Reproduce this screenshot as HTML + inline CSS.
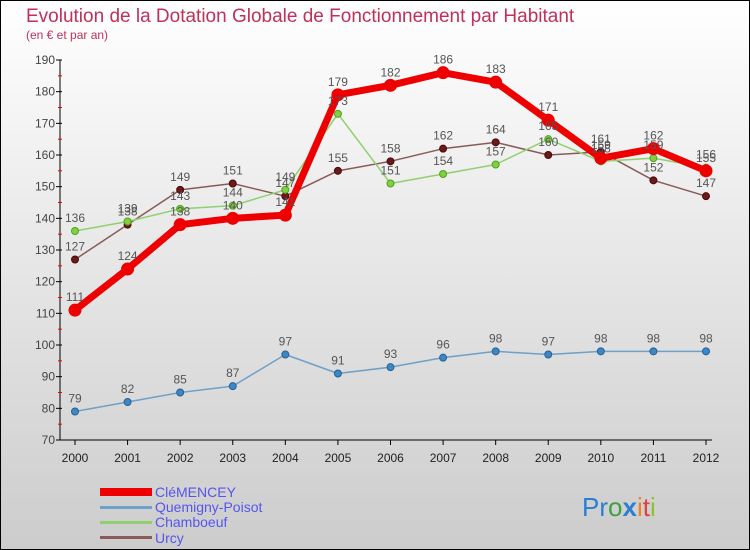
<!DOCTYPE html>
<html><head><meta charset="utf-8"><style>
body{margin:0}
svg{display:block;font-family:"Liberation Sans",sans-serif}
</style></head><body>
<svg id="c" width="750" height="550">
<defs><linearGradient id="bg" x1="0" y1="0" x2="0" y2="1"><stop offset="0" stop-color="#ffffff"/><stop offset="1" stop-color="#cccccc"/></linearGradient></defs>
<rect x="0.5" y="0.5" width="749" height="549" fill="url(#bg)" stroke="#000"/>
<text x="26" y="22" font-size="19" fill="#c0305a">Evolution de la Dotation Globale de Fonctionnement par Habitant</text>
<text x="26" y="39" font-size="12" fill="#c0305a">(en € et par an)</text>
<g id="axes"></g><g id="series"></g><g id="labels"></g>
<g>
<rect x="100" y="488" width="52" height="8" fill="#ee0000"/>
<text x="155" y="497" font-size="14" fill="#5555ee">CléMENCEY</text>
<rect x="100" y="506" width="52" height="3" fill="#6fa0c8"/>
<text x="155" y="512" font-size="14" fill="#5555ee">Quemigny-Poisot</text>
<rect x="100" y="521" width="52" height="3" fill="#90d070"/>
<text x="155" y="527" font-size="14" fill="#5555ee">Chamboeuf</text>
<rect x="100" y="536" width="52" height="3" fill="#8a5a5a"/>
<text x="155" y="543" font-size="14" fill="#5555ee">Urcy</text>
</g>
<g font-size="26">
<text x="582" y="516"><tspan fill="#2a7fd0">Pr</tspan><tspan fill="#40a040">o</tspan><tspan fill="#2a7fd0" font-weight="bold">x</tspan><tspan fill="#f08020">i</tspan><tspan fill="#e04040">t</tspan><tspan fill="#90c030">i</tspan></text>
</g>
</svg>
<script>
const years=[2000,2001,2002,2003,2004,2005,2006,2007,2008,2009,2010,2011,2012];
const yTicks=[70,80,90,100,110,120,130,140,150,160,170,180,190];
const clemencey=[111,124,138,140,141,179,182,186,183,171,159,162,155];
const quemigny=[79,82,85,87,97,91,93,96,98,97,98,98,98];
const chamboeuf=[136,139,143,144,149,173,151,154,157,165,158,159,156];
const urcy=[127,138,149,151,147,155,158,162,164,160,161,152,147];
const NS='http://www.w3.org/2000/svg';
const x=i=>75+i*(706-75)/12;
const y=v=>440-(v-70)*(380/120);
function mk(t,a,p){const e=document.createElementNS(NS,t);for(const k in a)e.setAttribute(k,a[k]);p.appendChild(e);return e;}
const ax=document.getElementById('axes');
let l=mk('line',{x1:60,y1:60,x2:60,y2:440,stroke:'#000'},ax);

l=mk('line',{x1:60,y1:440,x2:712,y2:440,stroke:'#000'},ax);

yTicks.forEach(v=>{mk('line',{x1:56,y1:y(v),x2:62,y2:y(v),stroke:'#000'},ax);
 if(v<190)mk('line',{x1:58,y1:y(v+5),x2:62,y2:y(v+5),stroke:'#e00'},ax);
 const t=mk('text',{x:55,y:y(v)+4,'font-size':12,fill:'#444','text-anchor':'end'},ax);t.textContent=v;
 });
years.forEach((yr,i)=>{mk('line',{x1:x(i),y1:440,x2:x(i),y2:445,stroke:'#000'},ax);
 const t=mk('text',{x:x(i),y:462,'font-size':12,fill:'#222','text-anchor':'middle'},ax);t.textContent=yr;
 });
const sg=document.getElementById('series'),lg=document.getElementById('labels');
function series(d,name,col,w,r,dot,stroke){
 const p=mk('polyline',{points:d.map((v,i)=>x(i)+','+y(v)).join(' '),fill:'none',stroke:col,'stroke-width':w,'stroke-linejoin':'round'},sg);
 
 d.forEach((v,i)=>{const c=mk('circle',{cx:x(i),cy:y(v),r:r,fill:dot,stroke:stroke,'stroke-width':1},sg);
  
  const t=mk('text',{x:x(i),y:y(v)-9,'font-size':12,fill:'#555','text-anchor':'middle'},lg);t.textContent=v;
  });
}
series(quemigny,'quemigny','#6fa0c8',1.5,3.5,'#3a88c8','#2a5f90');
series(urcy,'urcy','#8a5a5a',1.5,3.5,'#6a1a1a','#4a0a0a');
series(chamboeuf,'chamboeuf','#90d070',1.5,3.5,'#80d040','#50a020');
series(clemencey,'clemencey','#ee0000',7,6,'#ee0000','#ee0000');
</script>
</body></html>
